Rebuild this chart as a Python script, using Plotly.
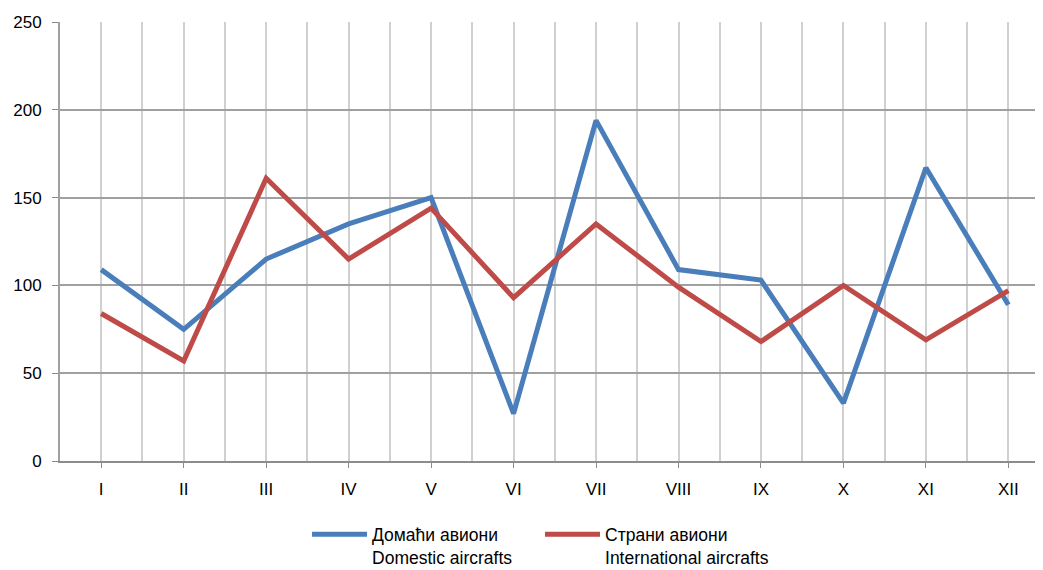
import plotly.graph_objects as go

months = ["I", "II", "III", "IV", "V", "VI", "VII", "VIII", "IX", "X", "XI", "XII"]
domestic = [109, 75, 115, 135, 150, 27, 194, 109, 103, 33, 167, 89]
international = [84, 57, 161, 115, 144, 93, 135, 99, 68, 100, 69, 97]
y_ticks = [0, 50, 100, 150, 200, 250]

idx = list(range(len(months)))

fig = go.Figure()
fig.add_trace(go.Scatter(x=idx, y=domestic, mode="lines",
                         name="Домаћи авиони<br>Domestic aircrafts",
                         line=dict(color="#4A7EBB", width=5)))
fig.add_trace(go.Scatter(x=idx, y=international, mode="lines",
                         name="Страни авиони<br>International aircrafts",
                         line=dict(color="#BE4B48", width=5)))

# page body has an 8px margin, so the figure is offset by 8px
fig.update_layout(
    width=1035, height=562,
    margin=dict(l=52, r=0, t=14, b=109, autoexpand=False),
    plot_bgcolor="white", paper_bgcolor="white",
    font=dict(family="Liberation Sans, Arial, sans-serif", size=17, color="#000"),
    showlegend=True,
    legend=dict(orientation="h", x=0.2513, xanchor="left", y=-0.126, yanchor="top",
                itemwidth=55, entrywidth=163, font=dict(size=17.5),
                traceorder="normal", valign="top"),
    xaxis=dict(range=[-0.5, 11.42], tickvals=idx, ticktext=months,
               showgrid=True, gridcolor="#d0d0d0", gridwidth=1.5,
               minor=dict(tickvals=[i + 0.5 for i in range(-1, 12)], showgrid=True,
                          gridcolor="#d0d0d0", gridwidth=1.5),
               ticks="outside", ticklen=5, tickcolor="#8c8c8c",
               showline=True, linecolor="#8c8c8c", linewidth=2,
               ticklabelstandoff=7, zeroline=False, fixedrange=True,
               automargin=False),
    yaxis=dict(range=[0, 250], tickvals=y_ticks,
               showgrid=True, gridcolor="#a0a0a0", gridwidth=1.5,
               ticks="outside", ticklen=6, tickcolor="#8c8c8c",
               showline=True, linecolor="#a0a0a0", linewidth=2,
               zeroline=False, ticklabelstandoff=7, fixedrange=True,
               automargin=False),
)

fig.write_html("out.html")
